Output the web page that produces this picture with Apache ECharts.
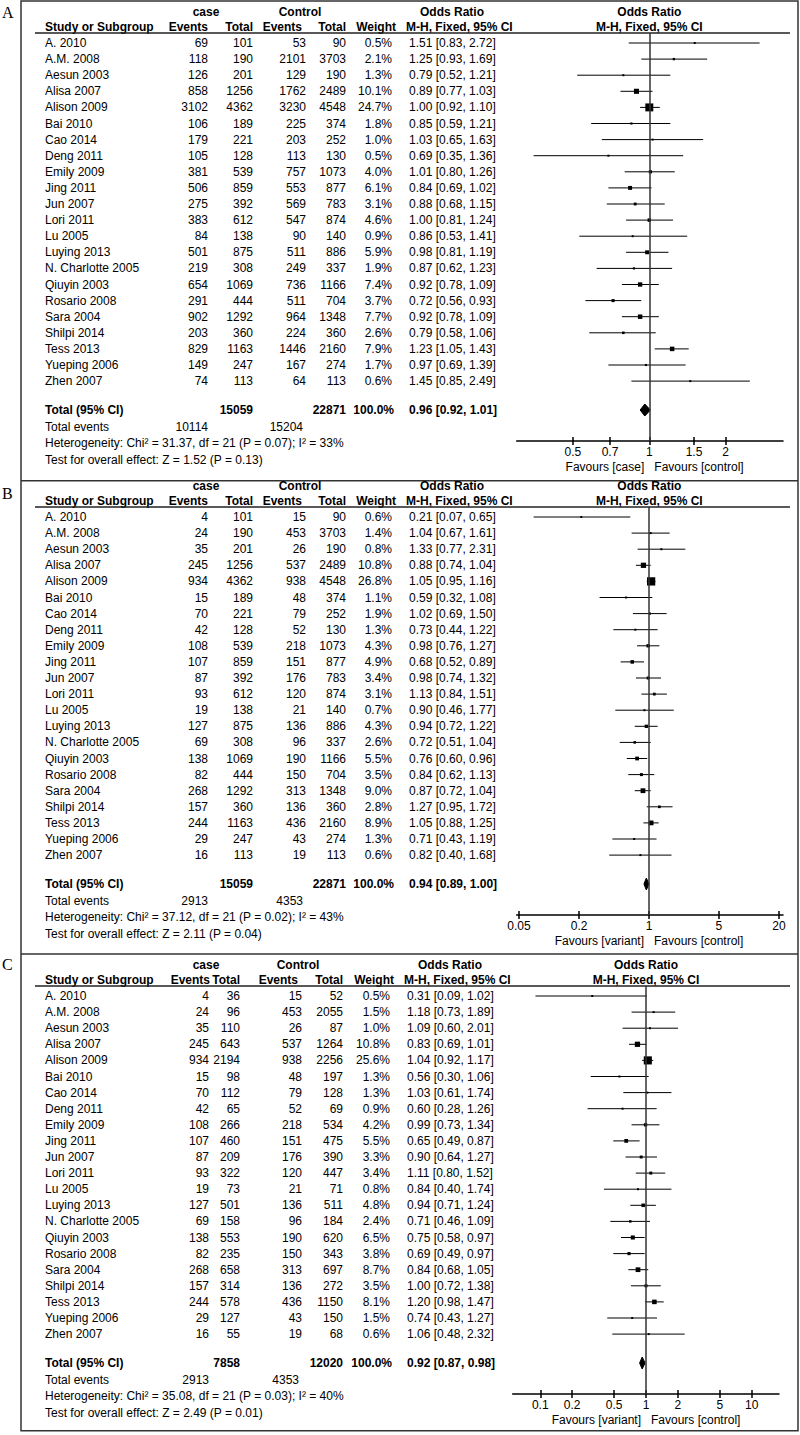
<!DOCTYPE html>
<html><head><meta charset="utf-8">
<script src="https://cdn.jsdelivr.net/npm/echarts@6/dist/echarts.min.js"></script>
<style>html,body{margin:0;padding:0;background:#fff}#c{width:800px;height:1435px}</style>
</head><body><div id="c"></div>
<script>
// ---------------- DATA ----------------
const studies = ["A. 2010","A.M. 2008","Aesun 2003","Alisa 2007","Alison 2009","Bai 2010","Cao 2014","Deng 2011","Emily 2009","Jing 2011","Jun 2007","Lori 2011","Lu 2005","Luying 2013","N. Charlotte 2005","Qiuyin 2003","Rosario 2008","Sara 2004","Shilpi 2014","Tess 2013","Yueping 2006","Zhen 2007"];

// Panel A
const aCaseEvents = [69,118,126,858,3102,106,179,105,381,506,275,383,84,501,219,654,291,902,203,829,149,74];
const aCaseTotal  = [101,190,201,1256,4362,189,221,128,539,859,392,612,138,875,308,1069,444,1292,360,1163,247,113];
const aCtrlEvents = [53,2101,129,1762,3230,225,203,113,757,553,569,547,90,511,249,736,511,964,224,1446,167,64];
const aCtrlTotal  = [90,3703,190,2489,4548,374,252,130,1073,877,783,874,140,886,337,1166,704,1348,360,2160,274,113];
const aWeight = [0.5,2.1,1.3,10.1,24.7,1.8,1.0,0.5,4.0,6.1,3.1,4.6,0.9,5.9,1.9,7.4,3.7,7.7,2.6,7.9,1.7,0.6];
const aOR   = [1.51,1.25,0.79,0.89,1.00,0.85,1.03,0.69,1.01,0.84,0.88,1.00,0.86,0.98,0.87,0.92,0.72,0.92,0.79,1.23,0.97,1.45];
const aLow  = [0.83,0.93,0.52,0.77,0.92,0.59,0.65,0.35,0.80,0.69,0.68,0.81,0.53,0.81,0.62,0.78,0.56,0.78,0.58,1.05,0.69,0.85];
const aHigh = [2.72,1.69,1.21,1.03,1.10,1.21,1.63,1.36,1.26,1.02,1.15,1.24,1.41,1.19,1.23,1.09,0.93,1.09,1.06,1.43,1.39,2.49];
const aTotals = [15059, 22871];
const aPooled = [0.96, 0.92, 1.01];
const aTotalEvents = [10114, 15204];
const aHeterogeneity = "Heterogeneity: Chi\u00B2 = 31.37, df = 21 (P = 0.07); I\u00B2 = 33%";
const aOverall = "Test for overall effect: Z = 1.52 (P = 0.13)";
const aTicks = [0.5, 0.7, 1, 1.5, 2];
const aTickLabels = ["0.5","0.7","1","1.5","2"];
const aFavours = ["Favours [case]", "Favours [control]"];

// Panel B
const bCaseEvents = [4,24,35,245,934,15,70,42,108,107,87,93,19,127,69,138,82,268,157,244,29,16];
const bCaseTotal  = [101,190,201,1256,4362,189,221,128,539,859,392,612,138,875,308,1069,444,1292,360,1163,247,113];
const bCtrlEvents = [15,453,26,537,938,48,79,52,218,151,176,120,21,136,96,190,150,313,136,436,43,19];
const bCtrlTotal  = [90,3703,190,2489,4548,374,252,130,1073,877,783,874,140,886,337,1166,704,1348,360,2160,274,113];
const bWeight = [0.6,1.4,0.8,10.8,26.8,1.1,1.9,1.3,4.3,4.9,3.4,3.1,0.7,4.3,2.6,5.5,3.5,9.0,2.8,8.9,1.3,0.6];
const bOR   = [0.21,1.04,1.33,0.88,1.05,0.59,1.02,0.73,0.98,0.68,0.98,1.13,0.90,0.94,0.72,0.76,0.84,0.87,1.27,1.05,0.71,0.82];
const bLow  = [0.07,0.67,0.77,0.74,0.95,0.32,0.69,0.44,0.76,0.52,0.74,0.84,0.46,0.72,0.51,0.60,0.62,0.72,0.95,0.88,0.43,0.40];
const bHigh = [0.65,1.61,2.31,1.04,1.16,1.08,1.50,1.22,1.27,0.89,1.32,1.51,1.77,1.22,1.04,0.96,1.13,1.04,1.72,1.25,1.19,1.68];
const bTotals = [15059, 22871];
const bPooled = [0.94, 0.89, 1.00];
const bTotalEvents = [2913, 4353];
const bHeterogeneity = "Heterogeneity: Chi\u00B2 = 37.12, df = 21 (P = 0.02); I\u00B2 = 43%";
const bOverall = "Test for overall effect: Z = 2.11 (P = 0.04)";
const bTicks = [0.05, 0.2, 1, 5, 20];
const bTickLabels = ["0.05","0.2","1","5","20"];
const bFavours = ["Favours [variant]", "Favours [control]"];

// Panel C
const cCaseEvents = [4,24,35,245,934,15,70,42,108,107,87,93,19,127,69,138,82,268,157,244,29,16];
const cCaseTotal  = [36,96,110,643,2194,98,112,65,266,460,209,322,73,501,158,553,235,658,314,578,127,55];
const cCtrlEvents = [15,453,26,537,938,48,79,52,218,151,176,120,21,136,96,190,150,313,136,436,43,19];
const cCtrlTotal  = [52,2055,87,1264,2256,197,128,69,534,475,390,447,71,511,184,620,343,697,272,1150,150,68];
const cWeight = [0.5,1.5,1.0,10.8,25.6,1.3,1.3,0.9,4.2,5.5,3.3,3.4,0.8,4.8,2.4,6.5,3.8,8.7,3.5,8.1,1.5,0.6];
const cOR   = [0.31,1.18,1.09,0.83,1.04,0.56,1.03,0.60,0.99,0.65,0.90,1.11,0.84,0.94,0.71,0.75,0.69,0.84,1.00,1.20,0.74,1.06];
const cLow  = [0.09,0.73,0.60,0.69,0.92,0.30,0.61,0.28,0.73,0.49,0.64,0.80,0.40,0.71,0.46,0.58,0.49,0.68,0.72,0.98,0.43,0.48];
const cHigh = [1.02,1.89,2.01,1.01,1.17,1.06,1.74,1.26,1.34,0.87,1.27,1.52,1.74,1.24,1.09,0.97,0.97,1.05,1.38,1.47,1.27,2.32];
const cTotals = [7858, 12020];
const cPooled = [0.92, 0.87, 0.98];
const cTotalEvents = [2913, 4353];
const cHeterogeneity = "Heterogeneity: Chi\u00B2 = 35.08, df = 21 (P = 0.03); I\u00B2 = 40%";
const cOverall = "Test for overall effect: Z = 2.49 (P = 0.01)";
const cTicks = [0.1, 0.2, 0.5, 1, 2, 5, 10];
const cTickLabels = ["0.1","0.2","0.5","1","2","5","10"];
const cFavours = ["Favours [variant]", "Favours [control]"];

// ---------------- LAYOUT ----------------
const FONT = '12px "Liberation Sans", Arial, sans-serif';
const BFONT = 'bold 12px "Liberation Sans", Arial, sans-serif';
const L = { h1:12, h2:27, underline:33, row0:43, step:16.1, total:410, totEv:426.5, het:443, test:459.5, axis:441, fav:467 };
const colsAB = {study:45, caseEv:208, caseTot:253, ctrlEv:306, ctrlTot:346, weight:392, or:409,
  caseHdr:206, ctrlHdr:300, orHdr:452, hEv:208, hTot:253, hCEv:302, hCTot:346, hW:396, hMH:406};
const colsC = {study:45, caseEv:209, caseTot:240, ctrlEv:302, ctrlTot:343, weight:390, or:407,
  caseHdr:206, ctrlHdr:298, orHdr:450, hEv:210, hTot:240, hCEv:298, hCTot:343, hW:394, hMH:404};
const frame = {left:21, right:798, top:1, bottom:1430.7, seps:[480.7, 954]};

const panels = [
  {letter:'A', letterY:12, off:0, gridLeft:516.7, gridWidth:266.3, xMin:-0.5225, xMax:0.5268, oneX:649.3, cols:colsAB,
   caseEvents:aCaseEvents, caseTotal:aCaseTotal, ctrlEvents:aCtrlEvents, ctrlTotal:aCtrlTotal, weight:aWeight,
   or:aOR, low:aLow, high:aHigh, totals:aTotals, pooled:aPooled, totalEvents:aTotalEvents,
   het:aHeterogeneity, overall:aOverall, ticks:aTicks, tickLabels:aTickLabels, favours:aFavours},
  {letter:'B', letterY:493, off:474, gridLeft:516.7, gridWidth:266.3, xMin:-1.324, xMax:1.341, oneX:649.3, cols:colsAB,
   caseEvents:bCaseEvents, caseTotal:bCaseTotal, ctrlEvents:bCtrlEvents, ctrlTotal:bCtrlTotal, weight:bWeight,
   or:bOR, low:bLow, high:bHigh, totals:bTotals, pooled:bPooled, totalEvents:bTotalEvents,
   het:bHeterogeneity, overall:bOverall, ticks:bTicks, tickLabels:bTickLabels, favours:bFavours},
  {letter:'C', letterY:964, off:953, gridLeft:512.7, gridWidth:266.3, xMin:-1.261, xMax:1.258, oneX:646, cols:colsC,
   caseEvents:cCaseEvents, caseTotal:cCaseTotal, ctrlEvents:cCtrlEvents, ctrlTotal:cCtrlTotal, weight:cWeight,
   or:cOR, low:cLow, high:cHigh, totals:cTotals, pooled:cPooled, totalEvents:cTotalEvents,
   het:cHeterogeneity, overall:cOverall, ticks:cTicks, tickLabels:cTickLabels, favours:cFavours}
];

const fmtOR = (o, l, h) => o.toFixed(2) + ' [' + l.toFixed(2) + ', ' + h.toFixed(2) + ']';
const rowUnit = py => (py - L.row0) / L.step;

function txt(x, y, s, align, font, extra) {
  return Object.assign({type:'text', x:x, y:y, silent:true,
    style:{text:s, font:font || FONT, fill:'#000', textAlign:align || 'left', textVerticalAlign:'middle', align:align || 'left', verticalAlign:'middle'}}, extra || {});
}

const grids = [], xAxes = [], yAxes = [], series = [], graphics = [];

// frame
graphics.push({type:'rect', silent:true, shape:{x:frame.left, y:frame.top, width:frame.right-frame.left, height:frame.bottom-frame.top},
  style:{fill:'none', stroke:'#333', lineWidth:1.5}});
frame.seps.forEach(sy => graphics.push({type:'line', silent:true, shape:{x1:frame.left, y1:sy, x2:frame.right, y2:sy}, style:{stroke:'#333', lineWidth:1.5}}));

panels.forEach((P, k) => {
  const o = P.off, c = P.cols;
  const logTicks = P.ticks.map(Math.log10);
  // letter
  graphics.push(txt(2, P.letterY, P.letter, 'left', '16px "Liberation Serif", "DejaVu Serif", serif'));
  // headers
  graphics.push(txt(c.caseHdr, L.h1 + o, 'case', 'center', BFONT));
  graphics.push(txt(c.ctrlHdr, L.h1 + o, 'Control', 'center', BFONT));
  graphics.push(txt(c.orHdr, L.h1 + o, 'Odds Ratio', 'center', BFONT));
  graphics.push(txt(P.oneX, L.h1 + o, 'Odds Ratio', 'center', BFONT));
  graphics.push(txt(c.study, L.h2 + o, 'Study or Subgroup', 'left', BFONT));
  graphics.push(txt(c.hEv, L.h2 + o, 'Events', 'right', BFONT));
  graphics.push(txt(c.hTot, L.h2 + o, 'Total', 'right', BFONT));
  graphics.push(txt(c.hCEv, L.h2 + o, 'Events', 'right', BFONT));
  graphics.push(txt(c.hCTot, L.h2 + o, 'Total', 'right', BFONT));
  graphics.push(txt(c.hW, L.h2 + o, 'Weight', 'right', BFONT));
  graphics.push(txt(c.hMH, L.h2 + o, 'M-H, Fixed, 95% CI', 'left', BFONT));
  graphics.push(txt(P.oneX, L.h2 + o, 'M-H, Fixed, 95% CI', 'center', BFONT));
  graphics.push({type:'line', silent:true, shape:{x1:35, y1:L.underline + o, x2:790, y2:L.underline + o}, style:{stroke:'#222', lineWidth:1.5}});
  // summary rows
  graphics.push(txt(c.study, L.total + o, 'Total (95% CI)', 'left', BFONT));
  graphics.push(txt(c.caseTot, L.total + o, String(P.totals[0]), 'right', BFONT));
  graphics.push(txt(c.ctrlTot, L.total + o, String(P.totals[1]), 'right', BFONT));
  graphics.push(txt(c.weight + 2, L.total + o, '100.0%', 'right', BFONT));
  graphics.push(txt(c.or, L.total + o, fmtOR(P.pooled[0], P.pooled[1], P.pooled[2]), 'left', BFONT));
  graphics.push(txt(c.study, L.totEv + o, 'Total events', 'left'));
  graphics.push(txt(c.caseEv, L.totEv + o, String(P.totalEvents[0]), 'right'));
  graphics.push(txt(c.ctrlEv - 3, L.totEv + o, String(P.totalEvents[1]), 'right'));
  graphics.push(txt(c.study, L.het + o, P.het, 'left'));
  graphics.push(txt(c.study, L.test + o, P.overall, 'left'));

  // grid & axes
  grids.push({left:P.gridLeft, width:P.gridWidth, top:L.underline + o, height:L.axis - L.underline});
  const axBase = {gridIndex:k, type:'value', min:P.xMin, max:P.xMax, position:'bottom', splitLine:{show:false}};
  xAxes.push(Object.assign({}, axBase, {
    axisLine:{show:true, onZero:false, lineStyle:{color:'#000', width:1.5}},
    axisTick:{show:true, customValues:logTicks, length:4, lineStyle:{color:'#000', width:1.5}},
    axisLabel:{show:true, customValues:logTicks, margin:5, color:'#000', fontSize:12, fontFamily:'"Liberation Sans", Arial, sans-serif',
      formatter: v => { const i = logTicks.findIndex(t => Math.abs(t - v) < 1e-6); return i >= 0 ? P.tickLabels[i] : ''; }}
  }));
  xAxes.push(Object.assign({}, axBase, {
    axisLine:{show:false, onZero:false},
    axisTick:{show:true, inside:true, customValues:logTicks, length:4, lineStyle:{color:'#000', width:1.5}},
    axisLabel:{show:false}
  }));
  yAxes.push({gridIndex:k, type:'value', inverse:true, min:rowUnit(L.underline), max:rowUnit(L.axis), show:false, splitLine:{show:false}});

  const xi = 2 * k, yi = k;
  // table text per study row
  series.push({
    type:'custom', name:'table' + P.letter, xAxisIndex:xi, yAxisIndex:yi, clip:false, silent:true,
    data: studies.map((s, i) => [Math.log10(P.or[i]), i]),
    encode:{x:0, y:1},
    renderItem: (params, api) => {
      const i = params.dataIndex;
      const y = api.coord([0, api.value(1)])[1];
      return {type:'group', children:[
        txt(c.study, y, studies[i], 'left'),
        txt(c.caseEv, y, String(P.caseEvents[i]), 'right'),
        txt(c.caseTot, y, String(P.caseTotal[i]), 'right'),
        txt(c.ctrlEv, y, String(P.ctrlEvents[i]), 'right'),
        txt(c.ctrlTot, y, String(P.ctrlTotal[i]), 'right'),
        txt(c.weight, y, P.weight[i].toFixed(1) + '%', 'right'),
        txt(c.or, y, fmtOR(P.or[i], P.low[i], P.high[i]), 'left')
      ]};
    }
  });
  // forest: CI lines + squares
  series.push({
    type:'custom', name:'forest' + P.letter, xAxisIndex:xi, yAxisIndex:yi, clip:false, silent:true,
    data: studies.map((s, i) => [Math.log10(P.low[i]), Math.log10(P.or[i]), Math.log10(P.high[i]), i, P.weight[i]]),
    encode:{x:[0,1,2], y:3},
    renderItem: (params, api) => {
      const r = api.value(3);
      const lo = api.coord([api.value(0), r]);
      const mid = api.coord([api.value(1), r]);
      const hi = api.coord([api.value(2), r]);
      const s = Math.max(2, 16 * Math.sqrt(api.value(4) / 100));
      return {type:'group', children:[
        {type:'line', shape:{x1:lo[0], y1:lo[1], x2:hi[0], y2:hi[1]}, style:{stroke:'#000', lineWidth:1}},
        {type:'rect', shape:{x:mid[0] - s/2, y:mid[1] - s/2, width:s, height:s}, style:{fill:'#000'}}
      ]};
    },
    markLine:{silent:true, symbol:['none','none'], animation:false, label:{show:false},
      lineStyle:{color:'#333', width:1.5, type:'solid'}, data:[{xAxis:0}]}
  });
  // pooled diamond
  series.push({
    type:'custom', name:'pooled' + P.letter, xAxisIndex:xi, yAxisIndex:yi, clip:false, silent:true,
    data: [[Math.log10(P.pooled[1]), Math.log10(P.pooled[0]), Math.log10(P.pooled[2]), rowUnit(L.total)]],
    encode:{x:[0,1,2], y:3},
    renderItem: (params, api) => {
      const r = api.value(3);
      const lo = api.coord([api.value(0), r]);
      const mid = api.coord([api.value(1), r]);
      const hi = api.coord([api.value(2), r]);
      const h = 6;
      return {type:'polygon', shape:{points:[[lo[0], lo[1]], [mid[0], mid[1] - h], [hi[0], hi[1]], [mid[0], mid[1] + h]]},
        style:{fill:'#000', stroke:'#000', lineWidth:1}};
    }
  });
  // favours labels
  series.push({
    type:'custom', name:'favours' + P.letter, xAxisIndex:xi, yAxisIndex:yi, clip:false, silent:true,
    data: [[0, rowUnit(L.fav)]],
    encode:{x:0, y:1},
    renderItem: (params, api) => {
      const p = api.coord([api.value(0), api.value(1)]);
      return {type:'group', children:[
        txt(p[0] - 5, p[1], P.favours[0], 'right'),
        txt(p[0] + 5, p[1], P.favours[1], 'left')
      ]};
    }
  });
});

const chart = echarts.init(document.getElementById('c'), null, {renderer:'svg', width:800, height:1435});
chart.setOption({
  animation:false,
  backgroundColor:'#fff',
  grid:grids, xAxis:xAxes, yAxis:yAxes, series:series,
  graphic:{elements:graphics}
});
</script>
</body></html>
